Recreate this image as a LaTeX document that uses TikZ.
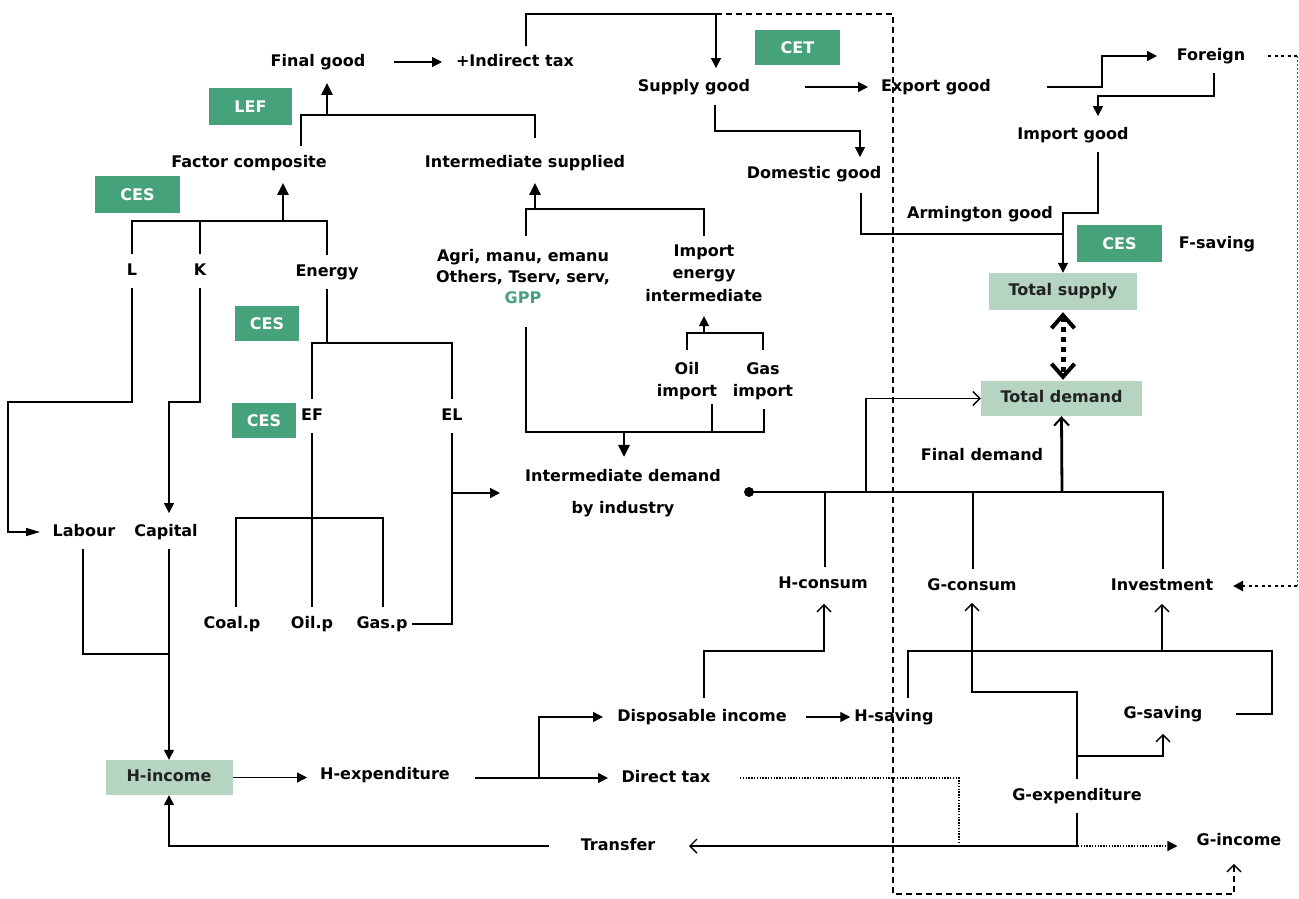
\documentclass[tikz,border=0pt]{standalone}
\usepackage{fontspec}
\setmainfont{DejaVu Sans}
\usetikzlibrary{arrows.meta}
\definecolor{cgreen}{HTML}{46A27B}
\definecolor{clight}{HTML}{B5D4C2}
\definecolor{ctext}{HTML}{222222}
\begin{document}
\begin{tikzpicture}[x=1pt,y=-1pt,
  every node/.style={font=\fontsize{16}{19}\selectfont\bfseries},
  lab/.style={inner xsep=4pt,inner ysep=9pt,text height=12pt,text depth=3.5pt},
  ml/.style={align=center,inner xsep=4pt,inner ysep=6pt},
  gbox/.style={fill=cgreen,text=white,inner sep=0pt,text height=12pt,text depth=0pt},
  lbox/.style={fill=clight,text=ctext,inner sep=0pt,text height=12pt,text depth=3.5pt},
  ln/.style={line width=1.4pt},
  thk/.style={line width=2.8pt},
  fa/.style={-{Triangle[length=10pt,width=10pt]}},
  fal/.style={-{Triangle[length=14pt,width=8pt]}},
  fab/.style={-{Triangle[length=12pt,width=11pt]}},
  oa/.style={-{Straight Barb[length=7pt,width=14pt]}},
  oab/.style={-{Straight Barb[length=8pt,width=15pt,line width=2pt]}},
  dsh/.style={line width=1.4pt,dash pattern=on 6pt off 4pt},
  dotA/.style={line width=1.2pt,dash pattern=on 1.4pt off 1.4pt},
  dotB/.style={line width=2.6pt,dash pattern=on 3pt off 3.5pt},
  dotC/.style={line width=1pt,dash pattern=on 2pt off 2pt,draw=black!70},
  dbl/.style={line width=5pt,dash pattern=on 5pt off 5pt,
    arrows={Straight Barb[length=13pt,width=23pt,line width=4pt]-Straight Barb[length=13pt,width=23pt,line width=4pt]}}
]
\fill[white] (0,0) rectangle (1299,899);
\useasboundingbox (0,0) rectangle (1299,899);

% ---------- boxes ----------
\node[gbox,minimum width=85pt,minimum height=35pt] (cet) at (797.5,47.5) {CET};
\node[gbox,minimum width=83pt,minimum height=37pt] (lef) at (250.5,106.5) {LEF};
\node[gbox,minimum width=85pt,minimum height=37pt] (ces1) at (137.5,194.5) {CES};
\node[gbox,minimum width=64pt,minimum height=35pt] (ces2) at (267,323.5) {CES};
\node[gbox,minimum width=64pt,minimum height=35pt] (ces3) at (264,420.5) {CES};
\node[gbox,minimum width=85pt,minimum height=37pt] (ces4) at (1119.5,243.5) {CES};
\node[lbox,minimum width=148pt,minimum height=37pt] (ts) at (1063,291.5) {Total supply};
\node[lbox,minimum width=161pt,minimum height=35pt] (td) at (1061.5,398.5) {Total demand};
\node[lbox,minimum width=127pt,minimum height=35pt] (hi) at (169,777.5) {H-income};

% ---------- text nodes ----------
\node[lab] (fg) at (318,62) {Final good};
\node[lab] (itax) at (515,62) {+Indirect tax};
\node[lab] (sg) at (694,87) {Supply good};
\node[lab] (eg) at (936,87) {Export good};
\node[lab] (frn) at (1211,56) {Foreign};
\node[lab] (ig) at (1073,135) {Import good};
\node[lab] (dom) at (814,174) {Domestic good};
\node[lab] (arm) at (980,214) {Armington good};
\node[lab] (fsav) at (1217,244) {F-saving};
\node[lab] (fc) at (249,163) {Factor composite};
\node[lab] (is) at (525,163) {Intermediate supplied};
\node[lab] (L) at (132,271) {L};
\node[lab] (K) at (200,271) {K};
\node[lab] (en) at (327,272) {Energy};
\node[ml,font=\fontsize{16}{21}\selectfont\bfseries] (agri) at (523,277)
  {Agri, manu, emanu\\Others, Tserv, serv,\\\textcolor{cgreen}{GPP}};
\node[ml,font=\fontsize{16}{22.5}\selectfont\bfseries] (iei) at (704,273)
  {Import\\energy\\intermediate};
\node[ml,font=\fontsize{16}{22}\selectfont\bfseries] (oil) at (687,381) {Oil\\import};
\node[ml,font=\fontsize{16}{22}\selectfont\bfseries] (gas) at (763,381) {Gas\\import};
\node[lab] (EF) at (312,416) {EF};
\node[lab] (EL) at (452,416) {EL};
\node[ml,font=\fontsize{16}{32}\selectfont\bfseries] (idm) at (623,493)
  {Intermediate demand\\by industry};
\node[lab] (lab) at (84,532) {Labour};
\node[lab] (cap) at (166,532) {Capital};
\node[lab] (coal) at (232,624) {Coal.p};
\node[lab] (oilp) at (312,624) {Oil.p};
\node[lab] (gasp) at (382,624) {Gas.p};
\node[lab] (fd) at (982,456) {Final demand};
\node[lab] (hc) at (823,584) {H-consum};
\node[lab] (gc) at (972,586) {G-consum};
\node[lab] (inv) at (1162,586) {Investment};
\node[lab] (di) at (702,717) {Disposable income};
\node[lab] (hs) at (894,717) {H-saving};
\node[lab] (gs) at (1163,714) {G-saving};
\node[lab] (hex) at (385,775) {H-expenditure};
\node[lab] (dt) at (666,778) {Direct tax};
\node[lab] (tr) at (618,846) {Transfer};
\node[lab] (ge) at (1077,796) {G-expenditure};
\node[lab] (gi) at (1239,841) {G-income};
\node[circle,fill=black,inner sep=0pt,minimum size=10pt] (dot) at (749,492) {};

% ---------- junction coordinates ----------
\coordinate (jfg) at (327,115);
\coordinate (jtop) at (716,14);
\coordinate (jts) at (1063,234);
\coordinate (jfc) at (283,221);
\coordinate (jis) at (535,209);
\coordinate (jiei) at (704,333);
\coordinate (jidm) at (624,432);
\coordinate (jel) at (452,493);
\coordinate (jhx) at (539,778);
\coordinate (jinv) at (1162,651);
\coordinate (jge) at (1077,756);
\coordinate (jtd) at (1062,492);
\coordinate (jf1) at (1297,56);
\coordinate (jf2) at (1297,586);

% ---------- top part ----------
\draw[ln] ([xshift=52pt]fc.north) |- (535,115) -- ([xshift=10pt,yshift=8pt]is.north);
\draw[thk,fab] (jfg) -- ([xshift=9pt,yshift=-4pt]fg.south);
\draw[ln,fa] (394,0 |- fg.east) -- (442,0 |- itax.west);
\draw[ln,fa] ([xshift=11pt,yshift=-1pt]itax.north) |- (jtop) -- ([xshift=22pt,yshift=2pt]sg.north);
\draw[ln,fa] (805,0 |- sg.east) -- (868,0 |- eg.west);
\draw[ln,fa] ([xshift=21pt,yshift=-1pt]sg.south) |- (860,131) -- ([xshift=46pt]dom.north);
\draw[ln,fa] (1047,0 |- eg.east) -| (1102,0 |- frn.west) -- (1157,0 |- frn.west);
\draw[ln,fa] ([xshift=3pt]frn.south) |- (1098,96) -- ([xshift=25pt,yshift=2pt]ig.north);
\draw[ln,fa] ([xshift=25pt]ig.south) |- (1063,213) -- (ts.north);
\draw[ln] ([xshift=47pt,yshift=-2pt]dom.south) |- (jts);
\draw[dbl] ([yshift=-2pt]ts.south) -- ([yshift=1pt]ts.south |- td.north);

% dashed frame to G-income
\draw[dsh,oa] (jtop) -- (893,14) -- (893,894) -- (1234,894) -- ([xshift=-5pt,yshift=-6pt]gi.south);

% foreign dotted to investment
\draw[dotB] (1268,0 |- frn.east) -- (jf1);
\draw[dotC] (jf1) -- (jf2);
\draw[dotB,fa] (jf2) -- (1233,0 |- inv.east);

% ---------- left production tree ----------
\draw[ln] (L.north) -- (L.north |- 0,221) -- (en.north |- 0,221) -- (en.north);
\draw[ln] (K.north) -- (K.north |- 0,221);
\draw[thk] (K.north |- 0,221) -- (jfc);
\draw[thk,fab] (jfc) -- ([xshift=34pt,yshift=-3pt]fc.south);

\draw[thk] (en.south) -- (en.south |- 0,343);
\draw[ln] (EF.north) -- (EF.north |- 0,343) -- (EL.north |- 0,343) -- (EL.north);
\draw[thk] (EF.south) -- (EF.south |- 0,518);
\draw[ln] ([xshift=4pt]coal.north) |- ([xshift=1pt]gasp.north |- 0,518) -- ([xshift=1pt]gasp.north);
\draw[ln] (oilp.north) -- (oilp.north |- 0,518);
\draw[ln] (EL.south) |- (gasp.east);
\draw[ln,fa] (jel) -- (500,0 |- idm.west);

\draw[ln,fal] (L.south) |- (8,402) |- (40,0 |- lab.west);
\draw[ln,fa] (K.south) |- (169,402) -- ([xshift=3pt,yshift=2pt]cap.north);
\draw[ln] ([xshift=-1pt]lab.south) |- (169,654);
\draw[ln,fa] ([xshift=3pt]cap.south) -- (hi.north);

% ---------- intermediate block ----------
\draw[ln] ([xshift=3pt,yshift=8pt]agri.north) |- (704,209) -- ([yshift=2.5pt]iei.north);
\draw[thk,fab] (jis) -- ([xshift=10pt,yshift=-3pt]is.south);
\draw[ln] ([yshift=6pt]oil.north) |- (763,333) -- ([yshift=6pt]gas.north);
\draw[ln,fa] (jiei) -- ([yshift=-8.5pt]iei.south);
\draw[ln] ([xshift=3pt,yshift=-17pt]agri.south) |- (jidm);
\draw[thk,fab] (jidm) -- ([xshift=1pt,yshift=6pt]idm.north);
\draw[thk] ([xshift=25pt,yshift=2pt]oil.south) |- (jidm);
\draw[ln] ([xshift=1pt,yshift=-3pt]gas.south) |- (712,432);

% ---------- final demand ----------
\draw[ln,oa] (dot.center) -| (866,0 |- td.west) -- (td.west);
\draw[ln] ([xshift=2pt]hc.north) |- (1163,492) -- ([xshift=1pt]inv.north);
\draw[ln] ([xshift=1pt]gc.north) -- ([xshift=1pt]gc.north |- 0,492);
\draw[thk,oab] (jtd) -- (td.south);

% ---------- household / government ----------
\draw[ln,fa] (hi.east) -- (307,0 |- hi.east);
\draw[ln,fa] ([xshift=21pt,yshift=-3pt]hex.east) -- (608,0 |- dt.west);
\draw[ln,fa] (jhx) |- (603,0 |- di.west);
\draw[ln,fa] (806,0 |- di.east) -- (hs.west);
\draw[ln,oa] ([xshift=2pt,yshift=2pt]di.north) |- (824,651) -- ([xshift=1pt,yshift=-3pt]hc.south);
\draw[ln] ([xshift=14pt,yshift=2pt]hs.north) |- (1272,651) |- (1236,0 |- gs.east);
\draw[ln,oa] (jinv) -- ([yshift=-1pt]inv.south);
\draw[ln,oa] (ge.north) |- (972,692) -- (gc.south);
\draw[ln,oa] (jge) -| ([yshift=-3pt]gs.south);
\draw[ln,oa] (ge.south) |- (689,0 |- tr.east);
\draw[dotA,fa] (740,0 |- dt.east) -| (959,846) -- ([xshift=-15pt,yshift=-5pt]gi.west);
\draw[ln,fa] (549,0 |- tr.west) -| (hi.south);
\end{tikzpicture}
\end{document}
